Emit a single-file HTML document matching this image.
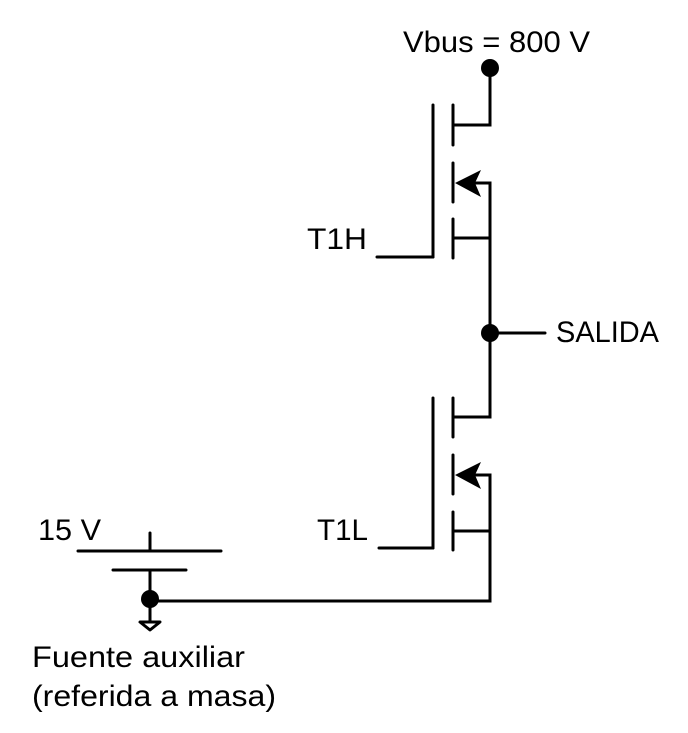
<!DOCTYPE html>
<html><head><style>
body{margin:0;background:#fff;}
svg{display:block}
text{font-family:"Liberation Sans",sans-serif;font-size:30px;fill:#000}
</style></head><body>
<svg width="688" height="733" viewBox="0 0 688 733" xmlns="http://www.w3.org/2000/svg">
<g stroke="#000" stroke-width="3" fill="none" stroke-linecap="round">
<line x1="433" y1="105" x2="433" y2="257"/>
<line x1="377" y1="257" x2="433" y2="257"/>
<line x1="453" y1="105" x2="453" y2="145"/>
<line x1="453" y1="163" x2="453" y2="202"/>
<line x1="453" y1="219" x2="453" y2="258"/>
<polyline points="490,68 490,125 453,125"/>
<polyline points="470,183 490,183 490,417 453,417"/>
<line x1="453" y1="238" x2="490" y2="238"/>
<line x1="433" y1="398" x2="433" y2="548"/>
<line x1="379" y1="548" x2="433" y2="548"/>
<line x1="453" y1="398" x2="453" y2="437"/>
<line x1="453" y1="455" x2="453" y2="494"/>
<line x1="453" y1="512" x2="453" y2="550"/>
<polyline points="470,475 490,475 490,601 150,601"/>
<line x1="453" y1="531" x2="490" y2="531"/>
<line x1="490" y1="333" x2="545" y2="333"/>
<line x1="78" y1="551" x2="221" y2="551"/>
<line x1="150" y1="533" x2="150" y2="551"/>
<line x1="113" y1="570" x2="186" y2="570"/>
<line x1="150" y1="570" x2="150" y2="622"/>
<polygon points="140,622 160,622 150,630" stroke-linejoin="round"/>
</g>
<g fill="#000">
<circle cx="490" cy="68" r="9"/>
<circle cx="490" cy="333" r="9"/>
<circle cx="150" cy="599" r="9"/>
<polygon points="455,183 481,170 475,183 481,197"/>
<polygon points="455,475 481,462 475,475 481,489"/>
</g>
<text x="403" y="52" textLength="187" lengthAdjust="spacingAndGlyphs">Vbus = 800 V</text>
<text x="307" y="249" textLength="60" lengthAdjust="spacingAndGlyphs">T1H</text>
<text x="317" y="540" textLength="51" lengthAdjust="spacingAndGlyphs">T1L</text>
<text x="556" y="342" textLength="103" lengthAdjust="spacingAndGlyphs">SALIDA</text>
<text x="38" y="540" textLength="63" lengthAdjust="spacingAndGlyphs">15 V</text>
<text x="32" y="667" textLength="213" lengthAdjust="spacingAndGlyphs">Fuente auxiliar</text>
<text x="32" y="706" textLength="244" lengthAdjust="spacingAndGlyphs">(referida a masa)</text>
</svg>
</body></html>
